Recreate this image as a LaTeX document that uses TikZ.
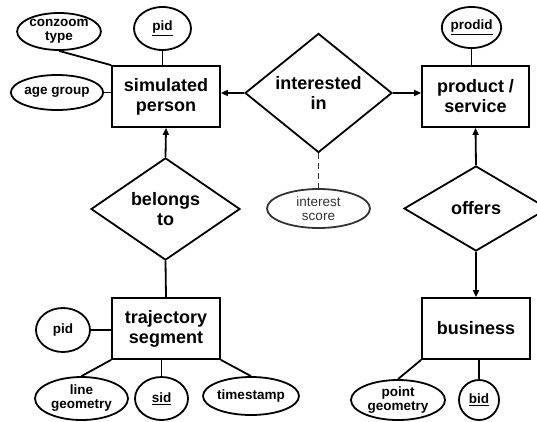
\documentclass[tikz,border=0pt]{standalone}
\usepackage{fontspec}
\setmainfont{Liberation Sans}
\usetikzlibrary{shapes.geometric, arrows.meta}
\definecolor{softgray}{gray}{0.2}

\tikzset{
  entity/.style={draw, line width=1.8pt, minimum width=108pt, minimum height=61pt,
    align=center, inner sep=2pt, font=\bfseries\fontsize{18}{20}\selectfont},
  relation/.style={draw, diamond, line width=1.8pt, inner sep=0pt, align=center,
    font=\bfseries\fontsize{18}{20}\selectfont},
  attrib/.style={draw, ellipse, line width=1.8pt, inner sep=0pt, align=center,
    font=\bfseries\fontsize{13.5}{14}\selectfont},
  link/.style={line width=1.8pt},
  arr/.style={link, -{Triangle[length=7pt,width=6pt]}}
}

\begin{document}
\begin{tikzpicture}[x=1pt, y=-1pt]
        \useasboundingbox (0,0) rectangle (537,421);
        % Entities
        \node[entity] (person) at (166,96.5) {simulated\\person};
        \node[entity, minimum width=107pt] (product) at (475.5,96.5) {product /\\service};
        \node[entity] (segment) at (166,328.5) {trajectory\\segment};
        \node[entity] (business) at (476,328.5) {business};
        % Relationships
        \node[relation, minimum width=147pt, minimum height=90pt] (interested) at (318.5,93) {interested\\in};
        \node[relation, minimum width=149pt, minimum height=86pt] (belongs) at (165.5,209) {belongs\\to};
        \node[relation, minimum width=144pt, minimum height=85pt] (offers) at (476,208.5) {offers};
        % Attributes
        \node[attrib, minimum width=82pt, minimum height=37pt] (conzoom) at (59,31.5) {conzoom\\type};
        \node[attrib, minimum width=57pt, minimum height=43pt] (pidperson) at (162.5,28.5) {\underline{pid}};
        \node[attrib, minimum width=90pt, minimum height=35pt] (agegroup) at (57,92.5) {age group};
        \node[attrib, minimum width=53pt, minimum height=41pt] (prodid) at (471.5,27.5) {\underline{prodid}};
        \node[attrib, draw=softgray, text=softgray, font=\fontsize{13.5}{14}\selectfont,
          minimum width=103pt, minimum height=39pt] (score) at (318.5,208.5) {interest\\score};
        \node[attrib, minimum width=54pt, minimum height=44pt] (pidsegment) at (63,330) {pid};
        \node[attrib, minimum width=93pt, minimum height=43pt] (linegeo) at (81.5,398.5) {line\\geometry};
        \node[attrib, minimum width=53pt, minimum height=43pt] (sid) at (161.5,398.5) {\underline{sid}};
        \node[attrib, minimum width=96pt, minimum height=38pt] (timestamp) at (251,396) {timestamp};
        \node[attrib, minimum width=94pt, minimum height=40pt] (pointgeo) at (398,400) {point\\geometry};
        \node[attrib, minimum width=40pt, minimum height=40pt] (bid) at (479,400) {\underline{bid}};
        % Relationship links
        \draw[arr] (interested.west) -- (interested.west -| person.east);
        \draw[arr] (interested.east) -- (interested.east -| product.west);
        \draw[arr] (belongs.north) -- (person.south);
        \draw[link] (belongs.south) -- (segment.north);
        \draw[arr] (offers.north) -- (product.south);
        \draw[arr] (offers.south) -- (business.north);
        \draw[line width=1.8pt, softgray, dash pattern=on 6pt off 4pt] (interested.south) -- (score.north);
        % Attribute links
        \draw[link] (conzoom.south) -- (person.north west);
        \draw[link] (pidperson) -- (pidperson |- person.north);
        \draw[link] (agegroup) -- (agegroup -| person.west);
        \draw[link] (prodid) -- (prodid |- product.north);
        \draw[link] (pidsegment) -- (pidsegment -| segment.west);
        \draw[link] (segment.south west) -- (linegeo.north);
        \draw[link] (sid) -- (sid |- segment.south);
        \draw[link] (segment.south east) -- (timestamp.north);
        \draw[link] (business.south west) -- (pointgeo.north);
        \draw[link] (bid) -- (bid |- business.south);
\end{tikzpicture}
\end{document}
